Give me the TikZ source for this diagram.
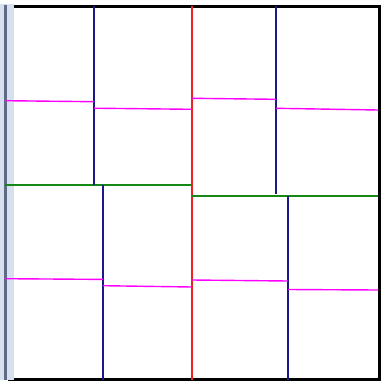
\documentclass[tikz,border=0pt]{standalone}
\definecolor{cred}{RGB}{240,30,30}
\definecolor{cgreen}{RGB}{20,135,20}
\definecolor{cblue}{RGB}{25,25,140}
\definecolor{cmag}{RGB}{255,0,255}
\definecolor{stripl}{RGB}{214,224,240}
\definecolor{stripd}{RGB}{95,107,128}
\begin{document}
\begin{tikzpicture}[x=1pt,y=-1pt,
  seg/.style={line width=1.4pt},
  redl/.style={seg,draw=cred},
  greenl/.style={seg,draw=cgreen},
  bluel/.style={seg,draw=cblue},
  magl/.style={seg,draw=cmag}]
\useasboundingbox (0,0) rectangle (382,380);
\fill[white] (0,0) rectangle (382,380);
% frame
\draw[line width=3pt,black] (8,6.5) -- (379.5,6.5) -- (379.5,379.5) -- (8,379.5);
% left strip
\fill[stripl] (0,4) rectangle (14,380);
\fill[stripd] (3.5,4.5) rectangle (7,380);
% red divider
\coordinate (rt) at (192,6); \coordinate (rb) at (192,380);
\draw[redl] (rt) -- (rb);
% green dividers
\coordinate (gl1) at (5,185); \coordinate (gl2) at (192,185);
\coordinate (gr1) at (192,196); \coordinate (gr2) at (378,196);
\draw[greenl] (gl1) -- (gl2);
\draw[greenl] (gr1) -- (gr2);
% blue dividers
\draw[bluel] (94,6) -- (94,185);
\draw[bluel] (276,6) -- (276,194);
\draw[bluel] (103,185) -- (103,380);
\draw[bluel] (288,196) -- (288,380);
% magenta dividers
\draw[magl] (5,100.7) -- (94,101.7);
\draw[magl] (94,108.2) -- (192,109.3);
\draw[magl] (192,98.3) -- (276,99.3);
\draw[magl] (276,108.3) -- (378,110);
\draw[magl] (5,278.7) -- (103,279.4);
\draw[magl] (103,285.7) -- (192,287);
\draw[magl] (192,280) -- (288,281);
\draw[magl] (288,289.5) -- (378,290);
\end{tikzpicture}
\end{document}
